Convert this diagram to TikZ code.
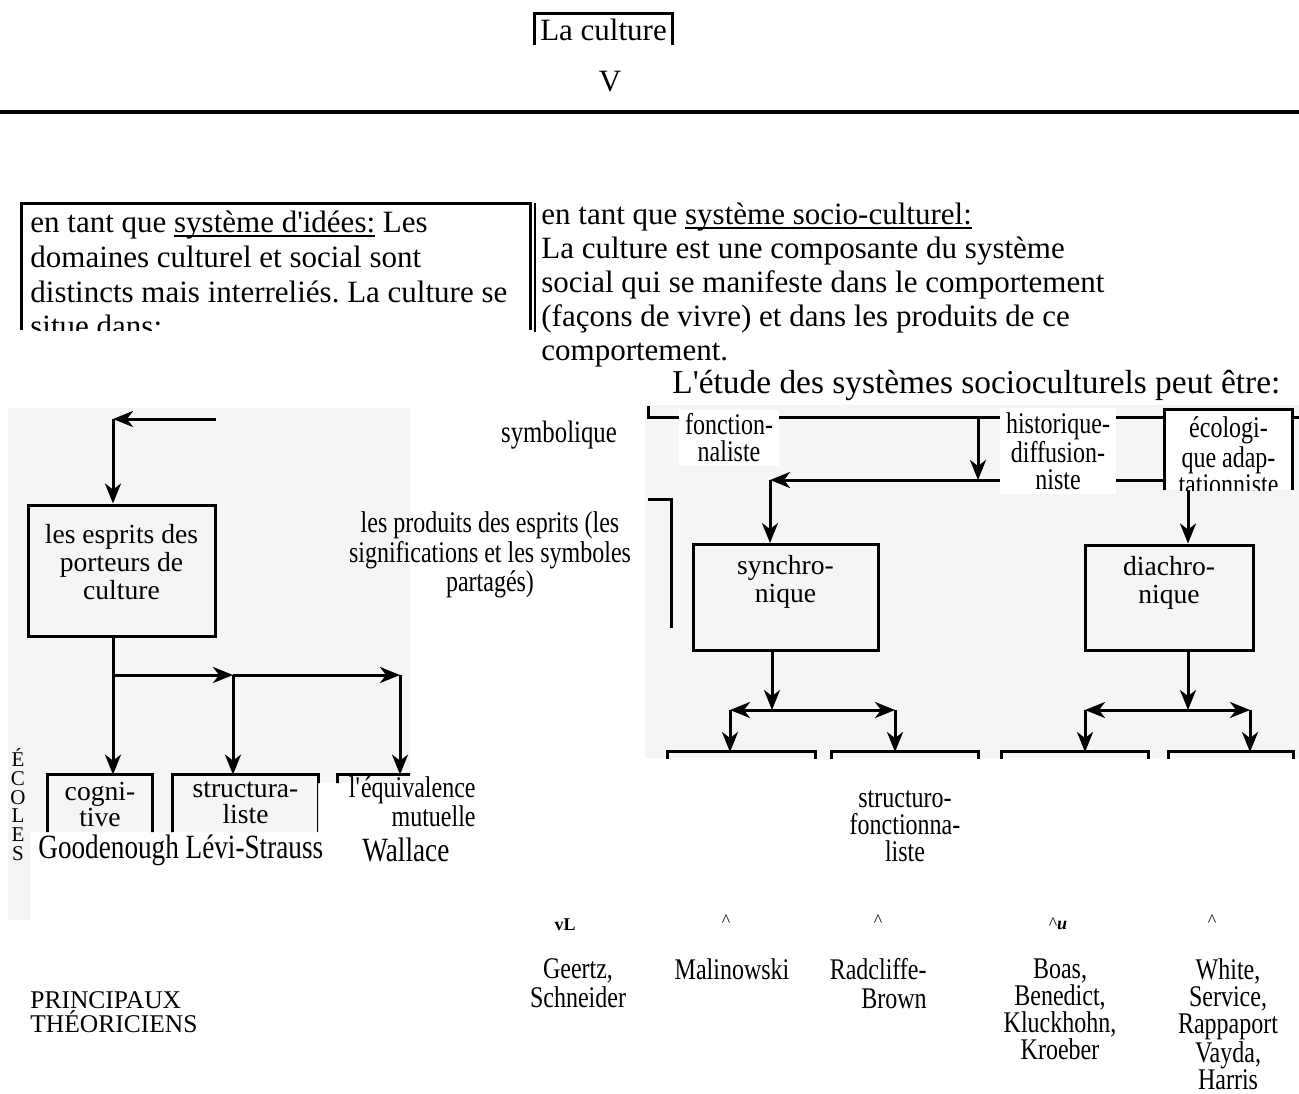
\documentclass[tikz,border=0pt]{standalone}
\usepackage{fontspec}
\setmainfont{Liberation Serif}
\newfontfamily\ocrfont[FakeStretch=0.8]{Liberation Serif}
\usepackage{tikz}
\usetikzlibrary{arrows.meta,positioning}
\definecolor{scangray}{HTML}{F5F5F7}
\newcommand{\bigsz}{\fontsize{15.5}{17}\selectfont}
\newcommand{\scansz}{\fontsize{13.8}{14}\selectfont}
\newcommand{\ocrsz}{\ocrfont\fontsize{15}{13.5}\selectfont}
\newcommand{\marksz}{\fontsize{9}{10}\selectfont}
\newcommand{\apos}{\textquotesingle}
\newlength{\ulwd}
\newcommand{\ulin}[1]{\settowidth{\ulwd}{#1}\rlap{\rule[-1.8pt]{\ulwd}{0.7pt}}#1}
\frenchspacing

\begin{document}
\begin{tikzpicture}[
    x=0.5pt, y=-0.5pt,
    every node/.style={inner sep=0pt},
    bigtxt/.style={font=\bigsz, align=left},
    scantxt/.style={font=\scansz, align=center},
    ocrtxt/.style={font=\ocrsz, align=center},
    marktxt/.style={font=\marksz},
    frame/.style={line width=1.2pt},
    scanline/.style={line width=1.5pt},
    scanbox/.style={draw, line width=1.5pt},
    cover/.style={fill=white, inner xsep=3pt, inner ysep=2pt},
    arr/.style={scanline, -{Stealth[length=10pt, width=8pt, inset=3pt]}}
]
\useasboundingbox (0,0) rectangle (1299,1093);

% titre
\node[bigtxt, minimum width=68.5pt, minimum height=15.5pt] (culture) at (603.5,29.5) {La culture};
\draw[frame] (culture.south west) |- (culture.north east) -- (culture.south east);
\node[bigtxt] (vsign) at (610,82) {V};
\coordinate (ruleL) at (0,112);
\coordinate (ruleR) at (1299,112);
\draw[line width=2pt] (ruleL) -- (ruleR);

% systeme d'idees
\node[minimum width=254pt, minimum height=63pt] (idees) at (276,267) {};
\draw[frame] (idees.south west) |- (idees.north east) -- (idees.south east);
\begin{scope}
  \clip (idees.south west) rectangle (idees.north east);
  \node[bigtxt, anchor=north west, font=\fontsize{15.5}{17.3}\selectfont] (ideestxt) at (30,211)
    {en tant que \ulin{système d\apos idées:} Les\\domaines culturel et social sont\\distincts mais interreliés. La culture se\\situe dans:};
\end{scope}

% systeme socio-culturel
\node[bigtxt, anchor=north west] (socio) at (541,203)
  {en tant que \ulin{système socio-culturel:}\\La culture est une composante du système\\social qui se manifeste dans le comportement\\(façons de vivre) et dans les produits de ce\\comportement.};
\coordinate (barT) at (535,203);
\coordinate (barB) at (535,332);
\draw[frame] (barT) -- (barB);
\node[bigtxt, anchor=west, font=\fontsize{16.7}{18}\selectfont] (etude) at (672,385) {L\apos étude des systèmes socioculturels peut être:};

% fonds des images
\fill[scangray] (8,408) -- (410,408) -- (410,783) -- (318,783) -- (318,832) -- (30,832) -- (30,920) -- (8,920) -- cycle;
\fill[scangray] (645,405) rectangle (1299,758);

% schema de gauche
\begin{scope}
  \clip (8,408) -- (410,408) -- (410,783) -- (318,783) -- (318,832) -- (8,832) -- cycle;
  \coordinate (feedL) at (216,419);
  \coordinate (trunk) at (113,419);
  \node[scanbox, minimum width=93.5pt, minimum height=65.5pt] (esprits) at (121.5,570.5) {};
  \node[scantxt, below=10pt of esprits.north] (esprtxt) {les esprits des\\porteurs de\\culture};
  \node[minimum width=52pt, minimum height=45pt] (cogn) at (100,820) {};
  \node[minimum width=72.5pt, minimum height=45pt] (struct) at (245.5,820) {};
  \node[minimum width=71pt, minimum height=45pt] (mutu) at (409,820) {};
  \foreach \b in {cogn,struct,mutu}
    \draw[scanline] (\b.south west) |- (\b.north east) -- (\b.south east);
  \node[scantxt, below=3.5pt of cogn.north, font=\fontsize{13.8}{13}\selectfont] (cogntxt) {cogni-\\tive};
  \node[scantxt, below=3.5pt of struct.north, font=\fontsize{13.8}{13}\selectfont] (structtxt) {structura-\\liste};
  \coordinate (forkL) at (113,675);
  \coordinate (forkM) at (233,675);
  \coordinate (forkR) at (400,675);
  \draw[arr] (feedL) -- (trunk);
  \draw[arr] (trunk) -- (trunk |- esprits.north);
  \draw[arr] (trunk |- esprits.south) -- (trunk |- cogn.north);
  \draw[arr] (forkL) -- (forkM);
  \draw[arr] (forkM) -- (forkR);
  \draw[arr] (forkM) -- (forkM |- struct.north);
  \draw[arr] (forkR) -- (forkR |- mutu.north);
\end{scope}
\node[ocrtxt, align=right, anchor=north east, font=\ocrfont\fontsize{15}{13.5}\selectfont] (equiv) at (476,776) {l\apos équivalence\\mutuelle};
\node[font=\fontsize{10.5}{9.4}\selectfont, align=center, anchor=north] (ecoles) at (18,748) {É\\C\\O\\L\\E\\S};
\node[ocrtxt, anchor=west, font=\ocrfont\fontsize{17}{15}\selectfont] (goodl) at (38,850) {Goodenough Lévi-Strauss};
\node[ocrtxt, anchor=west, font=\ocrfont\fontsize{17}{15}\selectfont] (wallace) at (362,850) {Wallace};

% textes du milieu
\node[ocrtxt, font=\ocrfont\fontsize{15.5}{13.5}\selectfont] (symb) at (559,435) {symbolique};
\node[ocrtxt] (produits) at (490,555) {les produits des esprits (les\\significations et les symboles\\partagés)};

% schema de droite
\begin{scope}
  \clip (645,405) rectangle (1299,758);
  \coordinate (brackT) at (648,406);
  \coordinate (topEnd) at (1299,417);
  \draw[scanline] (brackT) |- (topEnd);
  \coordinate (brack2T) at (648,499);
  \coordinate (brack2B) at (671,628);
  \draw[scanline] (brack2T) -| (brack2B);
  \node[scanbox, minimum width=92.5pt, minimum height=53pt] (synchro) at (785.5,597.5) {};
  \node[scantxt, below=6pt of synchro.north] (synctxt) {synchro-\\nique};
  \node[scanbox, minimum width=84pt, minimum height=52.5pt] (diachro) at (1169,597.5) {};
  \node[scantxt, below=6pt of diachro.north] (diatxt) {diachro-\\nique};
  \node[minimum width=73.5pt, minimum height=20pt] (boxA) at (741.5,772) {};
  \node[minimum width=73pt, minimum height=20pt] (boxB) at (905,772) {};
  \node[minimum width=73pt, minimum height=20pt] (boxC) at (1075,772) {};
  \node[minimum width=62.5pt, minimum height=20pt] (boxD) at (1231,772) {};
  \foreach \b in {boxA,boxB,boxC,boxD}
    \draw[scanline] (\b.south west) |- (\b.north east) -- (\b.south east);
  \coordinate (splitT) at (978,417);
  \coordinate (splitB) at (978,480);
  \coordinate (synTurn) at (770,480);
  \coordinate (diaTurn) at (1188,480);
  \draw[arr] (splitT) -- (splitB);
  \draw[arr] (splitB) -- (synTurn);
  \draw[arr] (splitB) -- (diaTurn);
  \draw[arr] (synTurn) -- (synTurn |- synchro.north);
  \draw[arr] (diaTurn) -- (diaTurn |- diachro.north);
  \coordinate (synFork) at (772,710);
  \coordinate (diaFork) at (1188,710);
  \draw[arr] (synFork |- synchro.south) -- (synFork);
  \draw[arr] (diaFork |- diachro.south) -- (diaFork);
  \foreach \f/\l/\r in {synFork/730/895, diaFork/1085/1250} {
    \draw[arr] (\f) -- (\l,710);
    \draw[arr] (\f) -- (\r,710);
    \draw[arr] (\l,710) -- (\l,752);
    \draw[arr] (\r,710) -- (\r,752);
  }
\end{scope}
\node[ocrtxt, cover] (fonct) at (729,438) {fonction-\\naliste};
\node[ocrtxt, cover] (histo) at (1058,451) {historique-\\diffusion-\\niste};
\node[minimum width=63.5pt, minimum height=40pt, fill=white] (eco) at (1228.5,450) {};
\draw[line width=1.7pt] (eco.south west) |- (eco.north east) -- (eco.south east);
\begin{scope}
  \clip (eco.south west) rectangle (eco.north east);
  \node[ocrtxt, below=3.5pt of eco.north] (ecotxt) {écologi-\\que adap-\\tationniste};
\end{scope}
\node[ocrtxt] (strfct) at (905,826) {structuro-\\fonctionna-\\liste};

% theoriciens
\node[marktxt] (mkA) at (565,925) {\textbf{vL}};
\node[marktxt] (mkB) at (726,921) {\textasciicircum};
\node[marktxt] (mkC) at (878,921) {\textasciicircum};
\node[marktxt] (mkD) at (1058,924) {\textasciicircum\textbf{\textit{u}}};
\node[marktxt] (mkE) at (1212,921) {\textasciicircum};
\node[ocrtxt, anchor=north, font=\ocrfont\fontsize{15}{14.5}\selectfont] (geertz) at (578,958) {Geertz,\\Schneider};
\node[ocrtxt, anchor=north] (malin) at (732,958) {Malinowski};
\node[ocrtxt, align=right, anchor=north east, font=\ocrfont\fontsize{15}{14.5}\selectfont] (radcl) at (927,958) {Radcliffe-\\Brown};
\node[ocrtxt, anchor=north] (boas) at (1060,958) {Boas,\\Benedict,\\Kluckhohn,\\Kroeber};
\node[ocrtxt, anchor=north] (white) at (1228,958) {White,\\Service,\\Rappaport\\Vayda,\\Harris};
\node[align=left, anchor=north west, font=\fontsize{12.75}{12}\selectfont] (princ) at (30,991) {PRINCIPAUX\\THÉORICIENS};
\end{tikzpicture}
\end{document}
